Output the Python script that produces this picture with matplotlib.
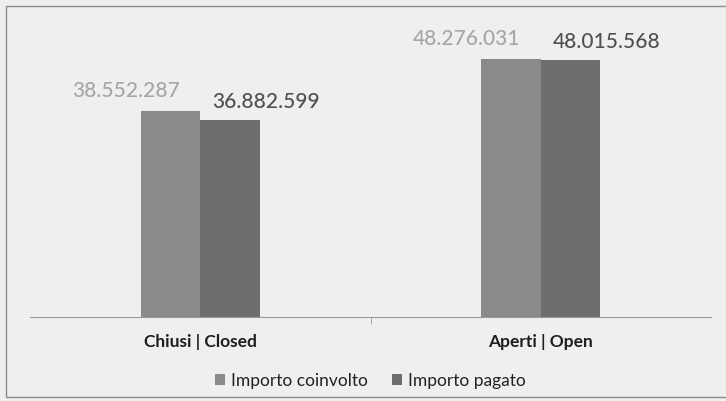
import matplotlib.pyplot as plt
import numpy as np
from matplotlib.patches import Rectangle

categories = ["Chiusi | Closed", "Aperti | Open"]
series_names = ["Importo coinvolto", "Importo pagato"]
importo_coinvolto = [38552287, 48276031]
importo_pagato = [36882599, 48015568]
value_labels_coinvolto = ["38.552.287", "48.276.031"]
value_labels_pagato = ["36.882.599", "48.015.568"]

plt.rcParams["font.family"] = ["Lato", "DejaVu Sans"]

bg = "#efefef"
fig = plt.figure(figsize=(7.26, 4.01), dpi=100, facecolor=bg)
fig.patches.append(Rectangle((6 / 726, 4 / 401), 730 / 726, 391 / 401,
                             transform=fig.transFigure, fill=False,
                             edgecolor="#8c8c8c", linewidth=1.0))

ax = fig.add_axes([30 / 726, 1 - 317 / 401, 681 / 726, 297 / 401])
ax.set_facecolor(bg)

x = np.arange(len(categories))
width = 0.175
bars1 = ax.bar(x - width / 2, importo_coinvolto, width, color="#8a8a8a",
               label=series_names[0])
bars2 = ax.bar(x + width / 2, importo_pagato, width, color="#6d6d6d",
               label=series_names[1])

for b, txt in zip(bars1, value_labels_coinvolto):
    ax.annotate(txt, (b.get_x() + b.get_width() / 2, b.get_height()),
                xytext=(-32, 14), textcoords="offset points", ha="center",
                va="center", fontsize=15, fontweight="medium", color="#a6a6a6")
for b, txt in zip(bars2, value_labels_pagato):
    ax.annotate(txt, (b.get_x() + b.get_width() / 2, b.get_height()),
                xytext=(26, 13), textcoords="offset points", ha="center",
                va="center", fontsize=15, fontweight="medium", color="#505050")

ax.set_xlim(-0.5, 1.5)
ax.set_ylim(0, 55.5e6)
ax.set_xticks(x)
ax.set_xticklabels(categories, fontsize=12.5, fontweight="bold", color="#1e1e1e")
ax.tick_params(axis="x", length=0, pad=12)
ax.set_xticks([0.5], minor=True)
ax.tick_params(axis="x", which="minor", length=5, color="#999999")
ax.set_yticks([])
for side in ["top", "right", "left"]:
    ax.spines[side].set_visible(False)
ax.spines["bottom"].set_color("#999999")

ax.legend(loc="center", bbox_to_anchor=(0.5, -0.215), ncol=2,
          frameon=False, fontsize=12.5, handlelength=0.55, handleheight=0.55,
          handletextpad=0.35, columnspacing=1.4, labelcolor="#222222")

fig.savefig("out.png", dpi=100, facecolor=bg)
